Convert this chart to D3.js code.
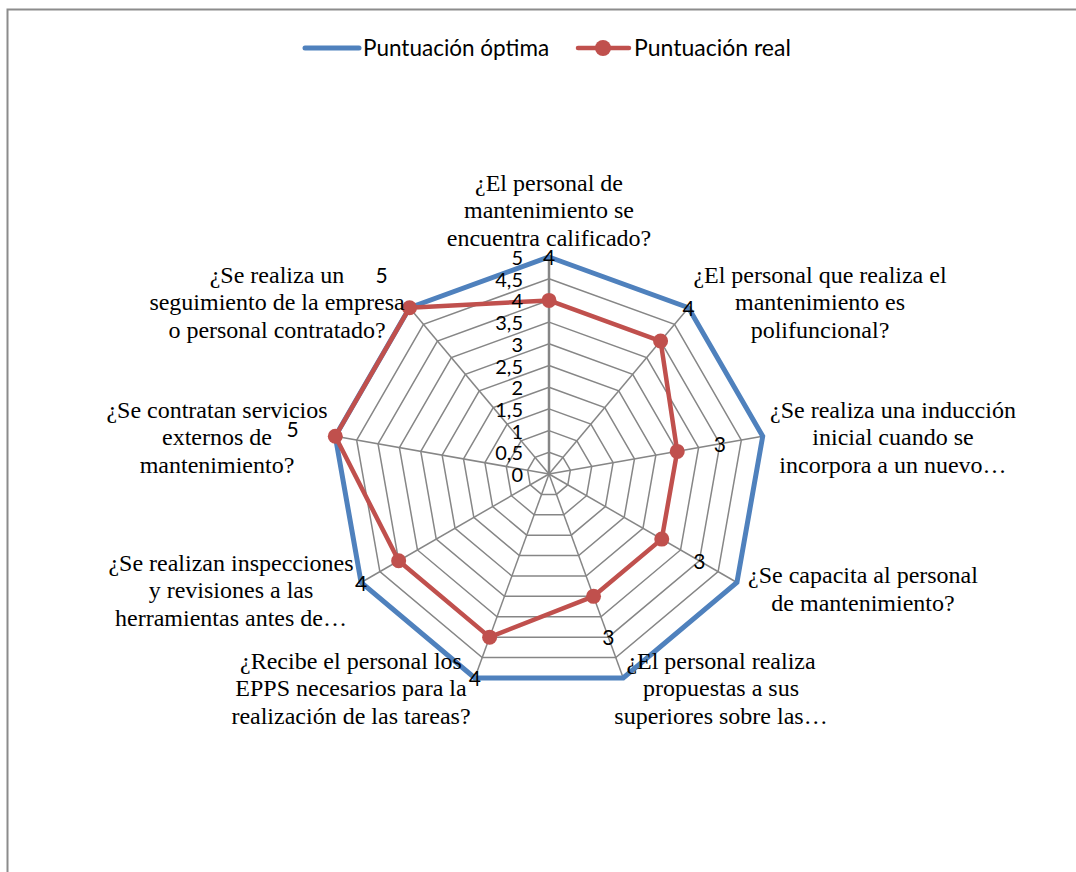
<!DOCTYPE html>
<html>
<head>
<meta charset="utf-8">
<script src="https://cdn.jsdelivr.net/npm/d3@7"></script>
<style>
  html, body { margin: 0; padding: 0; background: #fff; }
  svg { display: block; }
</style>
</head>
<body>
<svg id="chart"></svg>
<script>
// categories (line breaks as wrapped in the original)
var categories = [
  "¿El personal de\nmantenimiento se\nencuentra calificado?",
  "¿El personal que realiza el\nmantenimiento es\npolifuncional?",
  "¿Se realiza una inducción\ninicial cuando se\nincorpora a un nuevo…",
  "¿Se capacita al personal\nde mantenimiento?",
  "¿El personal realiza\npropuestas a sus\nsuperiores sobre las…",
  "¿Recibe el personal los\nEPPS necesarios para la\nrealización de las tareas?",
  "¿Se realizan inspecciones\ny revisiones a las\nherramientas antes de…",
  "¿Se contratan servicios\nexternos de\nmantenimiento?",
  "¿Se realiza un\nseguimiento de la empresa\no personal contratado?"
];
var optima = [5, 5, 5, 5, 5, 5, 5, 5, 5];
var real = [4, 4, 3, 3, 3, 4, 4, 5, 5];
var ticks = [0, 0.5, 1, 1.5, 2, 2.5, 3, 3.5, 4, 4.5, 5];
var tickLabels = ["0", "0,5", "1", "1,5", "2", "2,5", "3", "3,5", "4", "4,5", "5"];
var seriesNames = ["Puntuación óptima", "Puntuación real"];

// layout: label block centres relative to the chart centre
var labelOffsets = [[0, -264], [271, -172], [344, -37], [314, 115], [172, 214],
                    [-198, 214], [-318, 116], [-332, -37], [-272, -172]];

var W = 1076, H = 872;
var cx = 549, cy = 474, R = 217;
var blue = "#4F81BD", red = "#C0504D", gridCol = "#868686";

var svg = d3.select("#chart").attr("width", W).attr("height", H);

// outer frame
svg.append("rect")
  .attr("x", 7.5).attr("y", 9.5)
  .attr("width", 1100).attr("height", 900)
  .attr("fill", "none").attr("stroke", "#8c8c8c").attr("stroke-width", 2);

var n = categories.length;
var step = 2 * Math.PI / n;
var r = d3.scaleLinear().domain([0, 5]).range([0, R]);

function pt(i, v) {
  var a = i * step;
  return [cx + r(v) * Math.sin(a), cy - r(v) * Math.cos(a)];
}

var g = svg.append("g").attr("transform", "translate(" + cx + "," + cy + ")");

var radial = d3.lineRadial()
  .angle(function(d, i) { return i * step; })
  .radius(function(d) { return r(d); })
  .curve(d3.curveLinearClosed);

// grid rings
g.selectAll("path.ring")
  .data(ticks.filter(function(t) { return t > 0; }))
  .enter().append("path")
  .attr("class", "ring")
  .attr("d", function(t) { return radial(categories.map(function() { return t; })); })
  .attr("fill", "none")
  .attr("stroke", gridCol)
  .attr("stroke-width", 1.5);

// spokes
g.selectAll("line.spoke")
  .data(categories)
  .enter().append("line")
  .attr("x1", 0).attr("y1", 0)
  .attr("x2", function(d, i) { return r(5) * Math.sin(i * step); })
  .attr("y2", function(d, i) { return -r(5) * Math.cos(i * step); })
  .attr("stroke", gridCol)
  .attr("stroke-width", function(d, i) { return i === 0 ? 2.5 : 1.5; });

// series
g.append("path")
  .attr("d", radial(optima))
  .attr("fill", "none").attr("stroke", blue)
  .attr("stroke-width", 5).attr("stroke-linejoin", "miter");

g.append("path")
  .attr("d", radial(real))
  .attr("fill", "none").attr("stroke", red)
  .attr("stroke-width", 4.5).attr("stroke-linejoin", "round");

svg.selectAll("circle.mk")
  .data(real)
  .enter().append("circle")
  .attr("cx", function(d, i) { return pt(i, d)[0]; })
  .attr("cy", function(d, i) { return pt(i, d)[1]; })
  .attr("r", 7.5)
  .attr("fill", red);

// radial tick labels
svg.selectAll("text.tick")
  .data(ticks)
  .enter().append("text")
  .attr("x", cx - 26)
  .attr("y", function(t) { return cy - r(t) + 8; })
  .attr("text-anchor", "end")
  .style("font-family", "Lato, 'Open Sans', sans-serif")
  .style("font-size", "20px")
  .attr("fill", "#000")
  .text(function(t, i) { return tickLabels[i]; });

// data labels (Excel puts them one unit further out along the axis)
svg.selectAll("text.dl")
  .data(real)
  .enter().append("text")
  .attr("x", function(d, i) { return pt(i, d + 1)[0]; })
  .attr("y", function(d, i) { return pt(i, d + 1)[1] + 8; })
  .attr("text-anchor", "middle")
  .style("font-family", "Lato, 'Open Sans', sans-serif")
  .style("font-size", "21px")
  .attr("fill", "#000")
  .text(function(d) { return d; });

// category labels
var lineH = 27.5;
categories.forEach(function(c, i) {
  var lines = c.split("\n");
  var x = cx + labelOffsets[i][0];
  var yMid = cy + labelOffsets[i][1];
  var t = svg.append("text")
    .attr("text-anchor", "middle")
    .style("font-family", "'Liberation Serif', 'Times New Roman', serif")
    .style("font-size", "24px")
    .attr("fill", "#000");
  lines.forEach(function(l, k) {
    t.append("tspan")
      .attr("x", x)
      .attr("y", yMid + (k - (lines.length - 1) / 2) * lineH + 8)
      .text(l);
  });
});

// legend
var leg = svg.append("g");
var ly = 48;
leg.append("line")
  .attr("x1", 305).attr("x2", 359).attr("y1", ly).attr("y2", ly)
  .attr("stroke", blue).attr("stroke-width", 5).attr("stroke-linecap", "round");
leg.append("text")
  .attr("x", 363).attr("y", ly + 8)
  .style("font-family", "Lato, 'Open Sans', sans-serif")
  .style("font-size", "22.5px")
  .text(seriesNames[0]);
leg.append("line")
  .attr("x1", 578).attr("x2", 629).attr("y1", ly).attr("y2", ly)
  .attr("stroke", red).attr("stroke-width", 4.5).attr("stroke-linecap", "round");
leg.append("circle")
  .attr("cx", 603).attr("cy", ly).attr("r", 8).attr("fill", red);
leg.append("text")
  .attr("x", 634).attr("y", ly + 8)
  .style("font-family", "Lato, 'Open Sans', sans-serif")
  .style("font-size", "23px")
  .text(seriesNames[1]);
</script>
</body>
</html>
